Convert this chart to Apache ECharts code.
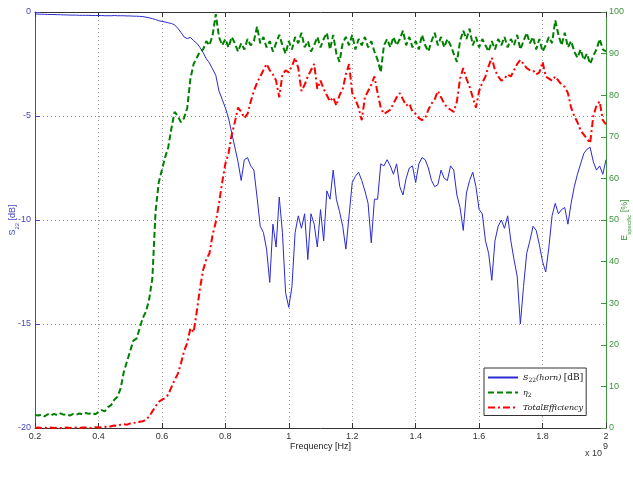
<!DOCTYPE html>
<html><head><meta charset="utf-8">
<script src="https://cdn.jsdelivr.net/npm/echarts@6/dist/echarts.min.js"></script>
<style>html,body{margin:0;padding:0;background:#fff}#c{width:633px;height:489px}</style>
</head><body><div id="c"></div>
<script>
// frequency in units of 1e9 Hz
const freq = [
0.20,0.21,0.22,0.23,0.24,0.25,0.26,0.27,0.28,0.29,
0.30,0.31,0.32,0.33,0.34,0.35,0.36,0.37,0.38,0.39,
0.40,0.41,0.42,0.43,0.44,0.45,0.46,0.47,0.48,0.49,
0.50,0.51,0.52,0.53,0.54,0.55,0.56,0.57,0.58,0.59,
0.60,0.61,0.62,0.63,0.64,0.65,0.66,0.67,0.68,0.69,
0.70,0.71,0.72,0.73,0.74,0.75,0.76,0.77,0.78,0.79,
0.80,0.81,0.82,0.83,0.84,0.85,0.86,0.87,0.88,0.89,
0.90,0.91,0.92,0.93,0.94,0.95,0.96,0.97,0.98,0.99,
1.00,1.01,1.02,1.03,1.04,1.05,1.06,1.07,1.08,1.09,
1.10,1.11,1.12,1.13,1.14,1.15,1.16,1.17,1.18,1.19,
1.20,1.21,1.22,1.23,1.24,1.25,1.26,1.27,1.28,1.29,
1.30,1.31,1.32,1.33,1.34,1.35,1.36,1.37,1.38,1.39,
1.40,1.41,1.42,1.43,1.44,1.45,1.46,1.47,1.48,1.49,
1.50,1.51,1.52,1.53,1.54,1.55,1.56,1.57,1.58,1.59,
1.60,1.61,1.62,1.63,1.64,1.65,1.66,1.67,1.68,1.69,
1.70,1.71,1.72,1.73,1.74,1.75,1.76,1.77,1.78,1.79,
1.80,1.81,1.82,1.83,1.84,1.85,1.86,1.87,1.88,1.89,
1.90,1.91,1.92,1.93,1.94,1.95,1.96,1.97,1.98,1.99,
2.00];

// S22 (horn) [dB]
const s22 = [
-0.10,-0.10,-0.11,-0.11,-0.12,-0.12,-0.12,-0.13,-0.13,-0.14,
-0.14,-0.15,-0.15,-0.15,-0.16,-0.16,-0.16,-0.16,-0.17,-0.17,
-0.17,-0.17,-0.18,-0.18,-0.18,-0.17,-0.18,-0.18,-0.18,-0.19,
-0.19,-0.20,-0.20,-0.21,-0.22,-0.25,-0.28,-0.32,-0.36,-0.42,
-0.45,-0.48,-0.52,-0.55,-0.62,-0.78,-0.98,-1.20,-1.28,-1.22,
-1.38,-1.50,-1.70,-1.95,-2.25,-2.45,-2.75,-3.05,-3.80,-4.20,
-4.60,-5.10,-5.80,-6.50,-7.20,-8.10,-7.10,-7.00,-7.40,-7.60,
-8.90,-10.30,-10.60,-11.40,-13.00,-10.20,-11.30,-8.90,-10.60,-13.50,
-14.20,-13.20,-10.60,-9.80,-10.40,-9.70,-11.90,-9.70,-10.20,-11.30,
-9.50,-11.00,-8.60,-9.00,-7.60,-9.00,-9.60,-10.30,-11.40,-9.80,
-8.20,-7.90,-7.70,-8.10,-8.60,-9.20,-11.10,-9.00,-9.00,-7.30,
-7.40,-7.10,-7.40,-7.80,-7.30,-8.40,-8.80,-8.00,-7.50,-7.40,
-8.20,-7.30,-7.00,-7.10,-7.50,-8.10,-8.40,-8.30,-7.60,-8.00,
-8.10,-7.40,-7.60,-8.80,-9.40,-10.50,-8.70,-8.10,-7.70,-8.40,
-9.50,-9.70,-11.00,-11.60,-12.90,-11.00,-10.30,-10.00,-10.40,-9.80,
-11.00,-11.90,-12.70,-15.00,-13.20,-11.60,-11.00,-10.30,-10.50,-11.20,
-12.00,-12.50,-11.30,-9.80,-9.20,-9.70,-9.50,-9.40,-10.20,-9.20,
-8.40,-7.80,-7.30,-6.80,-6.60,-6.50,-7.20,-7.60,-7.40,-7.80,
-7.10];

// eta_2 [%]
const eta2 = [
3.1,3.0,3.2,2.8,3.3,3.0,3.4,3.1,3.5,3.2,
3.3,3.0,3.4,3.2,3.5,3.3,3.6,3.4,3.7,3.3,
3.8,4.3,4.0,5.0,5.5,6.8,7.5,9.5,13.5,16.0,
18.5,21.0,21.5,24.0,26.5,28.0,31.0,36.0,52.0,59.0,
62.0,65.0,67.5,72.0,76.0,75.0,73.5,74.5,77.0,84.0,
87.5,89.0,90.5,91.0,93.0,92.0,94.5,99.5,94.0,92.0,
93.5,91.5,94.0,92.5,90.5,92.5,91.0,93.5,92.0,93.0,
96.5,92.5,94.0,91.5,93.0,90.5,92.5,94.5,92.0,90.0,
93.0,91.0,94.0,92.5,95.0,91.5,93.0,90.5,92.0,94.0,
91.5,93.5,95.0,91.0,94.5,90.0,88.0,92.5,94.0,92.0,
94.5,91.0,93.5,92.0,94.0,91.5,93.0,90.5,88.5,85.5,
92.0,93.5,91.5,94.0,92.0,93.5,95.5,92.0,94.0,91.5,
93.0,91.0,94.5,92.0,90.5,93.0,95.0,92.0,94.0,91.5,
93.5,92.0,90.0,88.0,93.0,95.5,93.5,96.0,92.0,94.0,
91.5,93.5,92.0,90.5,93.0,91.0,93.5,92.0,94.0,91.5,
93.5,92.0,94.5,91.0,93.0,95.0,92.5,94.0,91.0,93.5,
90.5,92.0,94.0,92.5,98.0,94.5,92.0,95.0,91.5,93.0,
90.5,89.0,91.0,88.5,90.0,87.5,89.5,91.0,93.5,91.0,
90.5];

// Total efficiency [%]
const totalEff = [
0.0,0.1,0.0,0.1,0.0,0.1,0.0,0.1,0.0,0.0,
0.1,0.0,0.1,0.1,0.0,0.1,0.1,0.0,0.1,0.2,
0.1,0.2,0.3,0.2,0.4,0.6,0.5,0.8,0.9,0.8,
1.1,1.3,1.2,1.5,1.6,2.0,2.8,4.0,5.2,6.3,
6.8,7.2,8.0,9.8,11.5,13.0,15.5,18.5,20.5,24.0,
23.0,28.0,33.5,38.0,40.5,42.0,46.5,49.5,54.0,59.0,
63.5,66.0,70.5,73.5,77.0,76.0,74.5,75.5,78.5,81.0,
83.0,84.5,86.0,87.5,86.0,85.0,83.5,79.5,85.0,86.0,
85.5,87.0,89.0,86.5,81.0,82.5,84.5,86.0,87.5,81.5,
83.5,81.5,80.0,78.5,79.5,77.5,80.0,81.5,85.0,87.5,
80.5,79.0,77.0,74.0,79.5,81.0,82.5,84.5,80.5,77.0,
75.5,76.0,76.5,78.0,79.5,80.5,79.0,77.5,78.0,76.0,
75.5,74.5,74.0,74.5,76.5,78.0,79.0,81.0,79.5,78.0,
77.0,76.5,76.0,78.5,84.0,86.5,84.0,82.0,79.5,77.0,
81.0,83.0,84.5,87.0,89.0,86.0,84.5,83.5,84.0,85.0,
84.5,86.0,87.5,88.5,87.5,86.5,86.0,86.0,85.0,85.5,
88.0,84.5,84.0,83.5,84.5,83.5,82.5,82.0,80.5,77.0,
75.0,73.5,71.5,70.5,69.5,68.5,75.0,77.5,78.5,74.0,
73.0];

const xTicks = {min: 0.2, max: 2, step: 0.2};
const leftTicks = {min: -20, max: 0, step: 5};
const rightTicks = {min: 0, max: 100, step: 10};

const pairs = (ys) => freq.map((f, i) => [f, ys[i]]);

const BLUE = '#2a2ad0', GREEN = '#008000', RED = '#ff0000';
const LBLUE = '#4646c0', LGREEN = '#3c963c';
const FONT = 'Liberation Sans';

const chart = echarts.init(document.getElementById('c'), null, {renderer: 'canvas'});
chart.setOption({
  animation: false,
  backgroundColor: '#fff',
  textStyle: {fontFamily: FONT},
  grid: {left: 35, right: 27, top: 12, bottom: 61, containLabel: false, outerBoundsMode: 'none'},
  xAxis: [{
    type: 'value', position: 'bottom',
    min: xTicks.min, max: xTicks.max, interval: xTicks.step,
    name: 'Frequency [Hz]', nameLocation: 'middle', nameGap: 14, nameMoveOverlap: false,
    nameTextStyle: {color: '#222', fontSize: 9, fontFamily: FONT},
    axisLine: {show: true, onZero: false, lineStyle: {color: '#333', width: 1}},
    axisTick: {show: true, inside: true, length: 5, lineStyle: {color: '#333'}},
    axisLabel: {color: '#333', fontSize: 9, margin: 4, fontFamily: FONT,
      formatter: v => String(+(+v).toFixed(1))},
    splitLine: {show: true, lineStyle: {type: [1, 3], color: '#999', width: 1}}
  }, {
    type: 'value', position: 'top',
    min: xTicks.min, max: xTicks.max, interval: xTicks.step,
    axisLine: {show: true, onZero: false, lineStyle: {color: '#333', width: 1}},
    axisTick: {show: true, inside: true, length: 5, lineStyle: {color: '#333'}},
    axisLabel: {show: false},
    splitLine: {show: false}
  }],
  yAxis: [{
    type: 'value', position: 'left',
    min: leftTicks.min, max: leftTicks.max, interval: leftTicks.step,
    name: '{m|S}{s|22}{m| [dB]}', nameLocation: 'middle', nameGap: 15, nameRotate: 90,
    nameMoveOverlap: false,
    nameTextStyle: {color: LBLUE, fontSize: 9, rich: {
      m: {color: LBLUE, fontSize: 9, fontFamily: FONT, lineHeight: 14, verticalAlign: 'middle'},
      s: {color: LBLUE, fontSize: 6, fontFamily: FONT, lineHeight: 14, verticalAlign: 'bottom'}
    }},
    axisLine: {show: true, onZero: false, lineStyle: {color: LBLUE, width: 1}},
    axisTick: {show: true, inside: true, length: 5, lineStyle: {color: LBLUE}},
    axisLabel: {color: LBLUE, fontSize: 9, margin: 4, fontFamily: FONT},
    splitLine: {show: true, lineStyle: {type: [1, 3], color: '#8a8ad0', width: 1}}
  }, {
    type: 'value', position: 'right',
    min: rightTicks.min, max: rightTicks.max, interval: rightTicks.step,
    name: '{m|E}{s|specific}{m| [%]}', nameLocation: 'middle', nameGap: 12, nameRotate: 90,
    nameMoveOverlap: false,
    nameTextStyle: {color: LGREEN, fontSize: 9, rich: {
      m: {color: LGREEN, fontSize: 9, fontFamily: FONT, lineHeight: 14, verticalAlign: 'middle'},
      s: {color: LGREEN, fontSize: 6, fontFamily: FONT, lineHeight: 14, verticalAlign: 'bottom'}
    }},
    axisLine: {show: true, onZero: false, lineStyle: {color: LGREEN, width: 1}},
    axisTick: {show: true, inside: true, length: 5, lineStyle: {color: LGREEN}},
    axisLabel: {color: LGREEN, fontSize: 9, margin: 3, fontFamily: FONT},
    splitLine: {show: false}
  }],
  legend: {
    orient: 'vertical', left: 484, top: 368,
    backgroundColor: '#fff', borderColor: '#333', borderWidth: 1, borderRadius: 0,
    padding: [5, 3, 4, 3], itemGap: 5, itemWidth: 30, itemHeight: 10,
    itemStyle: {opacity: 0, borderWidth: 0},
    data: ['s22', 'eta2', 'total'],
    formatter: n => ({
      s22: '{i|S}{s|22}{i|(horn)} {n|[dB]}',
      eta2: '{i|η}{s|2}',
      total: '{i|TotalEfficiency}'
    })[n],
    textStyle: {color: '#111', fontSize: 9, rich: {
      i: {fontFamily: 'DejaVu Serif', fontStyle: 'italic', fontSize: 8, color: '#111', lineHeight: 12, verticalAlign: 'middle'},
      s: {fontFamily: 'DejaVu Serif', fontSize: 6, color: '#111', lineHeight: 12, verticalAlign: 'bottom'},
      n: {fontFamily: 'DejaVu Serif', fontSize: 9, color: '#111', lineHeight: 12, verticalAlign: 'middle'}
    }}
  },
  series: [{
    name: 's22', type: 'line', xAxisIndex: 0, yAxisIndex: 0,
    data: pairs(s22), showSymbol: false, symbol: 'none',
    lineStyle: {color: BLUE, width: 1}, itemStyle: {color: BLUE}, z: 2
  }, {
    name: 'eta2', type: 'line', xAxisIndex: 0, yAxisIndex: 1,
    data: pairs(eta2), showSymbol: false, symbol: 'none',
    lineStyle: {color: GREEN, width: 2, type: [6, 3]}, itemStyle: {color: GREEN}, z: 3
  }, {
    name: 'total', type: 'line', xAxisIndex: 0, yAxisIndex: 1,
    data: pairs(totalEff), showSymbol: false, symbol: 'none',
    lineStyle: {color: RED, width: 2, type: [7, 3, 2, 3]}, itemStyle: {color: RED}, z: 4
  }],
  graphic: [
    {type: 'text', left: 585, top: 449, style: {text: 'x 10', fill: '#333', font: '9px "Liberation Sans"'}},
    {type: 'text', left: 603, top: 442, style: {text: '9', fill: '#333', font: '9px "Liberation Sans"'}}
  ]
});
</script>
</body></html>
